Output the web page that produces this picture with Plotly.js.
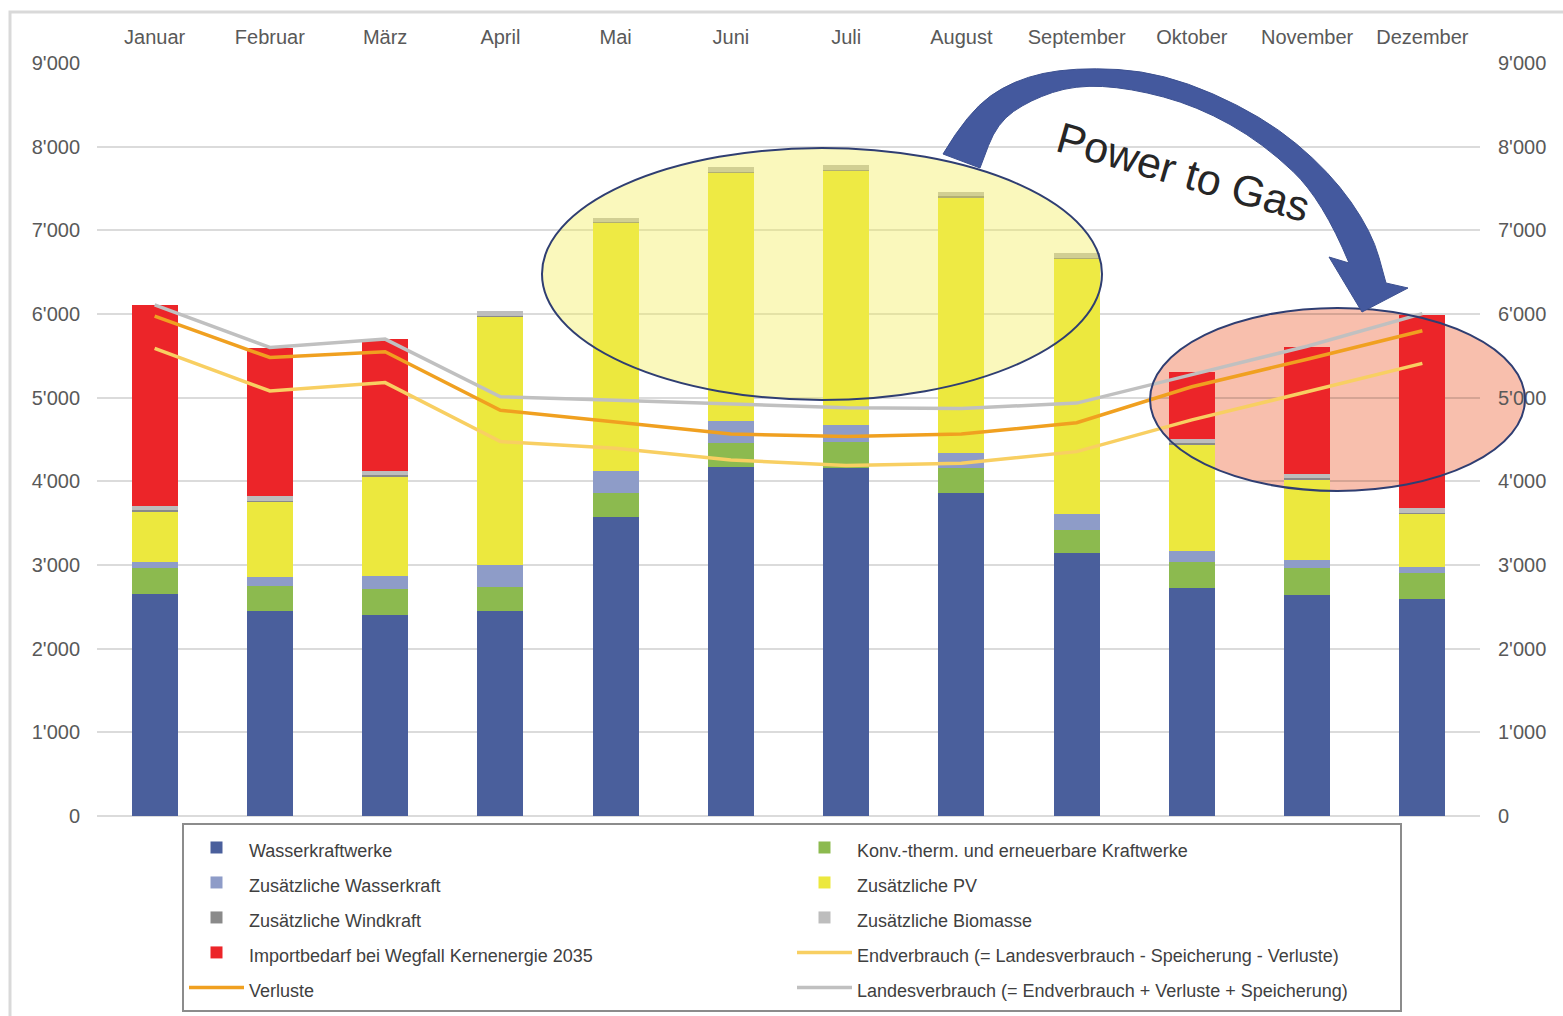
<!DOCTYPE html>
<html>
<head>
<meta charset="utf-8">
<script src="https://cdn.plot.ly/plotly-3.0.1.min.js"></script>
<style>html,body{margin:0;padding:0;background:#fff}#chart{width:1563px;height:1016px}</style>
</head>
<body>
<div id="chart"></div>
<script>
// ---- data (GWh per month) ----
const months = ["Januar","Februar","März","April","Mai","Juni","Juli","August","September","Oktober","November","Dezember"];
const wasserkraftwerke   = [2650, 2445, 2400, 2445, 3570, 4175, 4155, 3860, 3145, 2725, 2645, 2595];
const konvTherm          = [320, 305, 315, 290, 290, 285, 320, 295, 275, 315, 325, 315];
const zusWasserkraft     = [60, 110, 150, 270, 265, 265, 195, 185, 195, 125, 95, 70];
const zusPV              = [605, 890, 1190, 2955, 2960, 2960, 3040, 3050, 3040, 1270, 950, 625];
const zusWindkraft       = [20, 20, 20, 20, 15, 15, 15, 15, 15, 20, 20, 20];
const zusBiomasse        = [50, 60, 50, 55, 50, 55, 55, 55, 55, 55, 55, 55];
const importbedarf       = [2405, 1760, 1580, 0, 0, 0, 0, 0, 0, 800, 1520, 2310];
const endverbrauch       = [5590, 5080, 5180, 4475, 4395, 4255, 4190, 4215, 4355, 4735, 5070, 5410];
const verluste           = [5975, 5480, 5550, 4850, 4710, 4565, 4535, 4565, 4700, 5130, 5460, 5800];
const landesverbrauch    = [6110, 5600, 5700, 5010, 4970, 4920, 4880, 4870, 4935, 5275, 5615, 6005];
const yTicks = [0,1000,2000,3000,4000,5000,6000,7000,8000,9000];

// ---- plot geometry helpers (pixel -> paper) for annotation shapes ----
const PL = 97, PR = 1480, PT = 63, PB = 816;
const fx = px => (px - PL) / (PR - PL);
const fy = py => (PB - py) / (PB - PT);

function smoothPath(pts){
  let s = 'M' + fx(pts[0][0]) + ',' + fy(pts[0][1]);
  for (let i = 1; i < pts.length - 1; i++){
    const mx = (pts[i][0] + pts[i+1][0]) / 2, my = (pts[i][1] + pts[i+1][1]) / 2;
    s += ' Q' + fx(pts[i][0]) + ',' + fy(pts[i][1]) + ' ' + fx(mx) + ',' + fy(my);
  }
  const l = pts[pts.length-1];
  s += ' L' + fx(l[0]) + ',' + fy(l[1]);
  return s;
}
const outer = [[943,154],[968,112],[1013,80],[1073,67],[1163,72],[1263,116],[1330,172],[1372,232],[1386,283]];
const inner = [[1349,263],[1323,200],[1263,143],[1197,106],[1130,88],[1075,85],[1030,100],[997,123],[980,168]];
let arrowPath = smoothPath(outer);
arrowPath += ' L' + fx(1408) + ',' + fy(288) + ' L' + fx(1362) + ',' + fy(312) + ' L' + fx(1329) + ',' + fy(257);
arrowPath += ' L' + smoothPath(inner).slice(1) + ' Z';

const FONT = '"Liberation Sans", Arial, sans-serif';
const leg = s => '<span style="font-size:18px">' + s + '</span>';

function bar(name, y, color){
  return {type:'bar', name: leg(name), x: months, y: y, marker:{color: color, line:{width:0}}, hoverinfo:'y+name'};
}
function line(name, y, color, w){
  return {type:'scatter', mode:'lines', name: leg(name), x: months, y: y, yaxis:'y2',
          line:{color: color, width: w}};
}

const data = [
  bar('Wasserkraftwerke', wasserkraftwerke, '#4a5f9c'),
  bar('Konv.-therm. und erneuerbare Kraftwerke', konvTherm, '#8cba4f'),
  bar('Zusätzliche Wasserkraft', zusWasserkraft, '#8e9cc8'),
  bar('Zusätzliche PV', zusPV, '#ece83e'),
  bar('Zusätzliche Windkraft', zusWindkraft, '#8a8a8a'),
  bar('Zusätzliche Biomasse', zusBiomasse, '#bdbdbd'),
  bar('Importbedarf bei Wegfall Kernenergie 2035', importbedarf, '#ec2529'),
  line('Endverbrauch (= Landesverbrauch - Speicherung - Verluste)', endverbrauch, '#f8cf62', 3.5),
  line('Verluste', verluste, '#f0a020', 3.5),
  line('Landesverbrauch (= Endverbrauch + Verluste + Speicherung)', landesverbrauch, '#c0c0c0', 3.5)
];

const axisFont = {family: FONT, size: 20, color: '#595959'};
const GRID = 'rgba(0,0,0,0.14)';
const layout = {
  width: 1563, height: 1016,
  margin: {l: PL, r: 1563 - PR, t: PT, b: 1016 - PB, pad: 0, autoexpand: false},
  paper_bgcolor: '#ffffff', plot_bgcolor: 'rgba(0,0,0,0)',
  separators: ".'",
  font: {family: FONT, color: '#404040'},
  barmode: 'stack', bargap: 0.6,
  showlegend: true,
  xaxis: {type:'category', side:'top', showgrid:false, showline:false, zeroline:false,
          ticks:'', tickfont: axisFont, ticklabelstandoff: 14, fixedrange:true},
  yaxis: {range:[0,9000], tickvals: yTicks, tickformat: ',d', showgrid:true, gridcolor: GRID, gridwidth:2,
          zeroline:true, zerolinecolor: GRID, zerolinewidth:2, showline:false, ticks:'',
          tickfont: axisFont, ticklabelstandoff: 16, fixedrange:true},
  yaxis2: {range:[0,9000], tickvals: yTicks, tickformat: ',d', overlaying:'y', side:'right', showgrid:false,
           zeroline:false, showline:false, ticks:'', tickfont: axisFont, ticklabelstandoff: 17, fixedrange:true},
  legend: {orientation:'h', x: fx(182), y: fy(823), xanchor:'left', yanchor:'top',
           entrywidth: 538, entrywidthmode:'pixels', itemwidth: 55,
           bordercolor:'#8c8c8c', borderwidth: 2, bgcolor:'#ffffff',
           font:{family: FONT, size: 24.6, color:'#404040'}, traceorder:'normal'},
  shapes: [
    {type:'rect', xref:'paper', yref:'paper', x0: fx(10), x1: fx(1600), y0: fy(1100), y1: fy(12),
     line:{color:'#d9d9d9', width:3}, fillcolor:'rgba(0,0,0,0)', layer:'below'},
    // pink ellipse: fill beneath the bars, outline above
    {type:'circle', xref:'paper', yref:'paper', x0: fx(1150), x1: fx(1525), y0: fy(491), y1: fy(308),
     fillcolor:'rgba(240,120,80,0.47)', line:{width:0}, layer:'below'},
    {type:'circle', xref:'paper', yref:'paper', x0: fx(542), x1: fx(1102), y0: fy(400), y1: fy(148),
     fillcolor:'rgba(242,236,80,0.38)', line:{color:'#2f3e72', width:2}, layer:'above'},
    {type:'circle', xref:'paper', yref:'paper', x0: fx(1150), x1: fx(1525), y0: fy(491), y1: fy(308),
     fillcolor:'rgba(0,0,0,0)', line:{color:'#2f3e72', width:2}, layer:'above'},
    {type:'path', xref:'paper', yref:'paper', path: arrowPath,
     fillcolor:'#44599e', line:{color:'#3d5191', width:1}, layer:'above'}
  ],
  annotations: [
    {xref:'paper', yref:'paper', x: fx(1183), y: fy(172), xanchor:'center', yanchor:'middle',
     text:'Power to Gas', showarrow:false,
     textangle: 16, font:{family: FONT, size: 43, color:'#262626'}}
  ]
};

Plotly.newPlot('chart', data, layout, {displayModeBar:false, staticPlot:true});
</script>
</body>
</html>
